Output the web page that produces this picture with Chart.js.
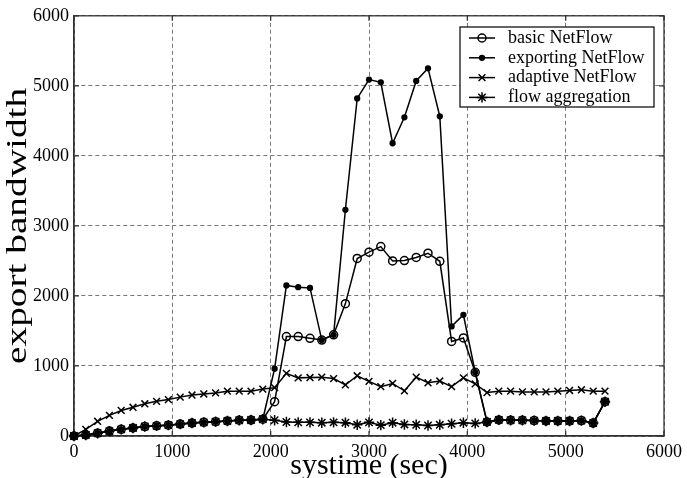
<!DOCTYPE html>
<html><head><meta charset="utf-8">
<script src="https://cdn.jsdelivr.net/npm/chart.js@4.4.1/dist/chart.umd.min.js"></script>
<style>html,body{margin:0;padding:0;background:#fff}#wrap{width:687px;height:478px;position:relative}</style>
</head><body><div id="wrap"><canvas id="c" width="687" height="478"></canvas></div>
<script>
const times = [0,120,240,360,480,600,720,840,960,1080,1200,1320,1440,1560,1680,1800,1920,2040,2160,2280,2400,2520,2640,2760,2880,3000,3120,3240,3360,3480,3600,3720,3840,3960,4080,4200,4320,4440,4560,4680,4800,4920,5040,5160,5280,5400];
const basicNetFlow = [0,15,40,70,95,115,135,145,155,170,185,195,205,215,225,228,240,490,1420,1420,1395,1370,1445,1890,2535,2625,2705,2500,2505,2550,2610,2495,1350,1400,910,200,230,225,225,220,215,215,215,220,185,490];
const exportingNetFlow = [0,15,40,70,95,115,135,145,155,170,185,195,205,215,225,228,240,960,2150,2125,2115,1370,1445,3230,4820,5090,5050,4180,4550,5070,5250,4565,1565,1730,910,200,230,225,225,220,215,215,215,220,185,490];
const adaptiveNetFlow = [0,95,210,295,365,410,460,495,520,555,585,600,615,640,640,640,670,690,895,830,835,840,820,730,860,780,705,750,645,840,760,785,705,830,745,620,640,640,630,630,630,640,650,660,640,640];
const flowAggregation = [0,15,40,70,95,115,135,145,155,170,185,195,205,215,225,228,240,225,200,195,195,190,195,190,160,195,155,190,165,160,150,160,175,190,180,200,230,225,225,220,215,215,215,220,185,490];
const seriesLabels = ['basic NetFlow','exporting NetFlow','adaptive NetFlow','flow aggregation'];
const xTicks = [0,1000,2000,3000,4000,5000,6000];
const yTicks = [0,1000,2000,3000,4000,5000,6000];
const xTitle = 'systime (sec)';
const yTitle = 'export bandwidth';

const FONT = "'Liberation Serif', 'Times New Roman', serif";
const seriesData = [basicNetFlow, exportingNetFlow, adaptiveNetFlow, flowAggregation];
const markers = [
  {pointStyle:'circle', radius:4, fill:'rgba(0,0,0,0)'},
  {pointStyle:'circle', radius:2.4, fill:'#000'},
  {pointStyle:'crossRot', radius:4.8, fill:'#000'},
  {pointStyle:'star', radius:5.2, fill:'#000'}
];

const datasets = seriesData.map((vals, k) => ({
  label: seriesLabels[k],
  data: times.map((t, i) => ({x: t, y: vals[i]})),
  borderColor: '#000',
  borderWidth: 1.5,
  pointStyle: markers[k].pointStyle,
  pointRadius: markers[k].radius,
  pointBackgroundColor: markers[k].fill,
  pointBorderColor: '#000',
  pointBorderWidth: 1.5,
  tension: 0,
  fill: false,
  clip: false
}));

const framePlugin = {
  id: 'frame',
  beforeDatasetsDraw(chart) {
    const {ctx, chartArea: a, scales: {x, y}} = chart;
    ctx.save();
    ctx.strokeStyle = '#333';
    ctx.lineWidth = 1.3;
    ctx.setLineDash([]);
    ctx.strokeRect(a.left, a.top, a.right - a.left, a.bottom - a.top);
    ctx.beginPath();
    x.ticks.forEach(t => {
      const px = x.getPixelForValue(t.value);
      ctx.moveTo(px, a.bottom); ctx.lineTo(px, a.bottom - 5);
      ctx.moveTo(px, a.top); ctx.lineTo(px, a.top + 5);
    });
    y.ticks.forEach(t => {
      const py = y.getPixelForValue(t.value);
      ctx.moveTo(a.left, py); ctx.lineTo(a.left + 5, py);
      ctx.moveTo(a.right, py); ctx.lineTo(a.right - 5, py);
    });
    ctx.stroke();
    ctx.restore();
  }
};

const yTitlePlugin = {
  id: 'yTitle',
  afterDraw(chart) {
    const {ctx, chartArea: a} = chart;
    ctx.save();
    ctx.font = "30px " + FONT;
    const w = ctx.measureText(yTitle).width;
    ctx.translate(18.5, (a.top + a.bottom) / 2);
    ctx.rotate(-Math.PI / 2);
    ctx.scale(276 / w, 1);
    ctx.fillStyle = '#000';
    ctx.textAlign = 'center';
    ctx.textBaseline = 'middle';
    ctx.fillText(yTitle, 0, 0);
    ctx.restore();
  }
};

const legendBox = {left: 460, top: 27, right: 654, bottom: 107};
const legendPlugin = {
  id: 'boxLegend',
  afterDatasetsDraw(chart) {
    const ctx = chart.ctx;
    ctx.save();
    ctx.fillStyle = '#fff';
    ctx.fillRect(legendBox.left, legendBox.top, legendBox.right - legendBox.left, legendBox.bottom - legendBox.top);
    ctx.strokeStyle = '#000';
    ctx.lineWidth = 1.2;
    ctx.strokeRect(legendBox.left, legendBox.top, legendBox.right - legendBox.left, legendBox.bottom - legendBox.top);
    const rowH = 19.8;
    chart.data.datasets.forEach((ds, k) => {
      const cy = legendBox.top + 11 + k * rowH;
      ctx.strokeStyle = '#000';
      ctx.lineWidth = 1.5;
      ctx.beginPath(); ctx.moveTo(469, cy); ctx.lineTo(495, cy); ctx.stroke();
      ctx.fillStyle = markers[k].fill;
      ctx.strokeStyle = '#000';
      ctx.lineWidth = 1.5;
      Chart.helpers.drawPoint(ctx, {pointStyle: markers[k].pointStyle, radius: markers[k].radius, rotation: 0, borderWidth: 1.5}, 482, cy);
      ctx.fillStyle = '#000';
      ctx.font = "18px " + FONT;
      ctx.textBaseline = 'middle';
      ctx.textAlign = 'left';
      ctx.fillText(ds.label, 508, cy);
    });
    ctx.restore();
  }
};

new Chart(document.getElementById('c'), {
  type: 'line',
  data: {datasets},
  plugins: [framePlugin, legendPlugin, yTitlePlugin],
  options: {
    responsive: false,
    animation: false,
    layout: {padding: {left: 0, top: 13, right: 18, bottom: 0}},
    plugins: {legend: {display: false}, tooltip: {enabled: false}},
    scales: {
      x: {
        type: 'linear', min: 0, max: 6000,
        afterBuildTicks: s => { s.ticks = xTicks.map(v => ({value: v})); },
        afterFit: s => { s.height = 42; },
        grid: {color: '#777', lineWidth: 1, drawTicks: false},
        border: {display: true, color: '#333', width: 1.3, dash: [4, 3]},
        ticks: {color: '#000', font: {family: FONT, size: 18}, padding: 5, maxRotation: 0, autoSkip: false, callback: v => String(v)},
        title: {display: true, text: xTitle, color: '#000', font: {family: FONT, size: 30, lineHeight: 0.8}, padding: 0}
      },
      y: {
        type: 'linear', min: 0, max: 6000,
        afterBuildTicks: s => { s.ticks = yTicks.map(v => ({value: v})); },
        afterFit: s => { s.width = 74; },
        grid: {color: '#777', lineWidth: 1, drawTicks: false},
        border: {display: true, color: '#333', width: 1.3, dash: [4, 3]},
        ticks: {color: '#000', font: {family: FONT, size: 18}, padding: 5, autoSkip: false, callback: v => String(v)},
        title: {display: false, text: yTitle}
      }
    }
  }
});
</script>
</body></html>
